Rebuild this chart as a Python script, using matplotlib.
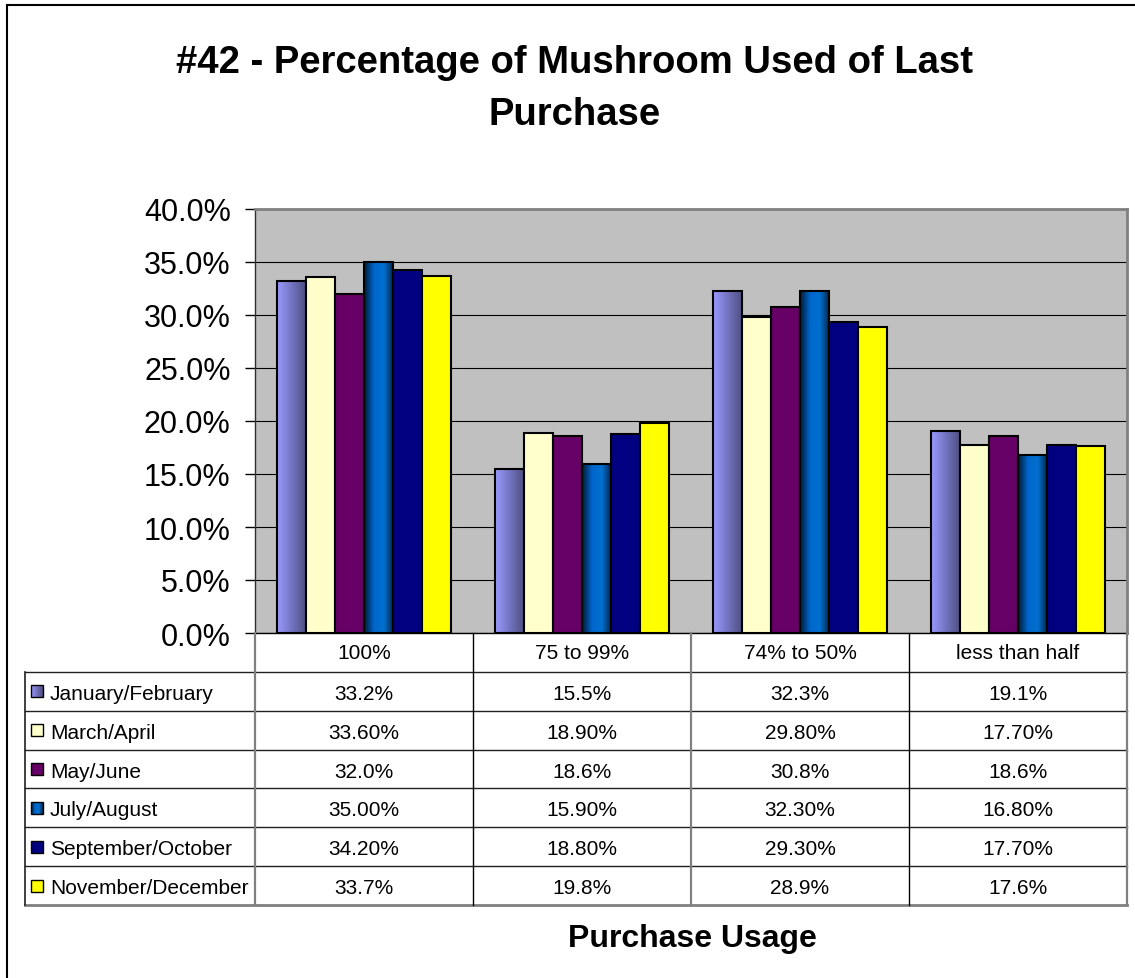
import matplotlib
matplotlib.use("Agg")
import matplotlib.pyplot as plt
import numpy as np
from matplotlib.colors import LinearSegmentedColormap
from matplotlib.lines import Line2D
from matplotlib.patches import Rectangle

plt.rcParams['font.family'] = ['Liberation Sans', 'DejaVu Sans']

categories = ["100%", "75 to 99%", "74% to 50%", "less than half"]
periods = ["January/February", "March/April", "May/June",
           "July/August", "September/October", "November/December"]

jan_feb = [33.2, 15.5, 32.3, 19.1]
mar_apr = [33.60, 18.90, 29.80, 17.70]
may_jun = [32.0, 18.6, 30.8, 18.6]
jul_aug = [35.00, 15.90, 32.30, 16.80]
sep_oct = [34.20, 18.80, 29.30, 17.70]
nov_dec = [33.7, 19.8, 28.9, 17.6]
series = [jan_feb, mar_apr, may_jun, jul_aug, sep_oct, nov_dec]
decimals = [1, 2, 1, 2, 2, 1]

# fills: a plain colour or a list of colours for a left-to-right gradient
fills = [
    ["#9999FF", "#4D4D80"],
    "#FFFFCC",
    "#660066",
    ["#001A33", "#0066CC", "#0070D0", "#002244"],
    "#000080",
    "#FFFF00",
]

W, H = 1135, 979
fig = plt.figure(figsize=(W / 100, H / 100), dpi=100)


def fx(px):
    return px / W


def fy(py):
    return 1 - py / H


def gradient_fill(ax, patch, colors, zorder):
    cmap = LinearSegmentedColormap.from_list("g", colors)
    x0, y0 = patch.get_x(), patch.get_y()
    w, h = patch.get_width(), patch.get_height()
    im = ax.imshow(np.linspace(0, 1, 128).reshape(1, -1), cmap=cmap,
                   extent=(x0, x0 + w, y0, y0 + h), aspect='auto',
                   interpolation='bilinear', zorder=zorder)
    im.set_clip_path(patch)


# plot area
left, right, top, bottom = 255, 1127, 210, 634
ax = fig.add_axes([fx(left), fy(bottom), fx(right - left), (bottom - top) / H])
ax.set_facecolor("#C0C0C0")

n = len(series)
gap = 1.5
bw = 1.0 / (n + gap)
x = np.arange(len(categories))

for i, (vals, fill) in enumerate(zip(series, fills)):
    pos = x + (i - (n - 1) / 2) * bw
    if isinstance(fill, list):
        bars = ax.bar(pos, vals, width=bw, facecolor='none',
                      edgecolor='black', linewidth=1.5, zorder=3)
        for b in bars:
            gradient_fill(ax, b, fill, 2.9)
    else:
        ax.bar(pos, vals, width=bw, color=fill, edgecolor='black',
               linewidth=1.5, zorder=3)

ax.set_xlim(-0.5, len(categories) - 0.5)
ax.set_ylim(0, 40)
ax.set_yticks(np.arange(0, 40.1, 5))
ax.yaxis.set_major_formatter(matplotlib.ticker.FuncFormatter(lambda v, p: f"{v:.1f}%"))
ax.set_xticks([])
ax.tick_params(axis='y', direction='out', length=7.5, width=1, labelsize=22,
               pad=10, colors='black')
ax.set_axisbelow(True)
ax.yaxis.grid(True, color='black', linewidth=0.8)
for side in ['top', 'right']:
    ax.spines[side].set_color('#808080')
    ax.spines[side].set_linewidth(2)
ax.spines['left'].set_color('#303030')
ax.spines['left'].set_linewidth(1)
ax.spines['bottom'].set_color('black')
ax.spines['bottom'].set_linewidth(1)

# data table beneath the plot, sharing the category scale
tab_left, tab_bottom = 25, 906
unit = (right - left) / len(categories)
x_min = -0.5 - (left - tab_left) / unit
tax = fig.add_axes([fx(tab_left), fy(tab_bottom), fx(right - tab_left),
                    (tab_bottom - bottom) / H])
tax.set_xlim(x_min, len(categories) - 0.5)
tax.set_ylim(n + 1, 0)
tax.axis('off')

gray_cols = {0, 2, 4}
for k in range(len(categories) + 1):
    xv = k - 0.5
    c = '#808080' if k in gray_cols else 'black'
    lw = 1.6 if k in gray_cols else 1
    tax.plot([xv, xv], [0, n + 1], color=c, lw=lw, clip_on=False, zorder=2)
for r in range(1, n + 2):
    c = '#808080' if r == n + 1 else '#202020'
    lw = 2 if r == n + 1 else 1
    tax.plot([x_min, len(categories) - 0.5], [r, r], color=c, lw=lw,
             clip_on=False, zorder=1)
tax.plot([x_min, x_min], [1, n + 1], color='#202020', lw=1.2, clip_on=False)

for j, cat in enumerate(categories):
    tax.text(j, 0.45, cat, ha='center', va='center_baseline', fontsize=15)

row_h_px = (tab_bottom - bottom) / (n + 1)
key_w = 12 / unit
key_h = 12 / row_h_px
key_x = -0.5 - (left - 31) / unit
label_x = -0.5 - (left - 50) / unit
for i, (name, vals, fill, d) in enumerate(zip(periods, series, fills, decimals)):
    r = i + 1
    yc = r + 0.5
    key = Rectangle((key_x, yc - key_h / 2), key_w, key_h,
                    facecolor='none' if isinstance(fill, list) else fill,
                    edgecolor='black', linewidth=1, zorder=3)
    tax.add_patch(key)
    if isinstance(fill, list):
        gradient_fill(tax, key, fill, 2.9)
    tax.text(label_x, yc, name, ha='left', va='center_baseline', fontsize=15)
    for j, v in enumerate(vals):
        tax.text(j, yc, f"{v:.{d}f}%", ha='center', va='center_baseline',
                 fontsize=15)
tax.set_xlim(x_min, len(categories) - 0.5)
tax.set_ylim(n + 1, 0)

# titles
fig.text(fx(574), fy(73), "#42 - Percentage of Mushroom Used of Last",
         ha='center', va='baseline', fontsize=27.5, fontweight='bold')
fig.text(fx(575), fy(125), "Purchase", ha='center', va='baseline',
         fontsize=27.5, fontweight='bold')
fig.text(fx(692), fy(947), "Purchase Usage", ha='center', va='baseline',
         fontsize=23, fontweight='bold')

# chart border (left and top edges)
fig.add_artist(Line2D([fx(7), fx(7)], [0, fy(6)], color='black', lw=1.5))
fig.add_artist(Line2D([fx(7), 1], [fy(6), fy(6)], color='black', lw=1.5))

fig.savefig("out.png", dpi=100)
